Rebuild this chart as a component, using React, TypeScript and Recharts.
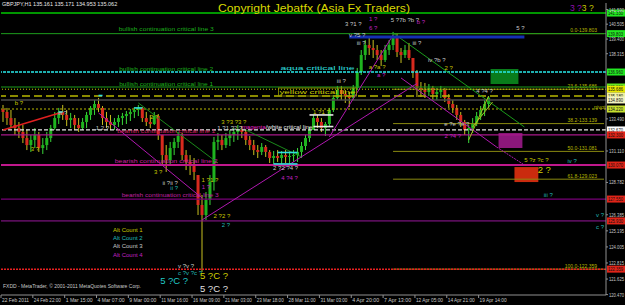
import React from 'react';
import { ComposedChart, Bar, XAxis, YAxis, ReferenceLine, ReferenceArea, ReferenceDot } from 'recharts';

const FONT = 'Liberation Sans, Arial, sans-serif';
const W = 625;
const H = 305;
const SLOTS = 152; // candle slots across the plot, the right part is empty future space

// GBPJPY H1, 22 Feb - 21 Apr 2011; each candle groups ~8 hourly bars
const highs = [
  134.52, 134.30, 134.15, 133.55, 133.26, 133.04, 132.67, 132.30, 132.81, 132.52,
  132.07, 132.52, 133.04, 134.00, 134.30, 134.52, 134.15, 133.93, 133.78, 133.55,
  133.55, 134.00, 134.44, 134.89, 135.04, 134.44, 134.00, 133.78, 133.55, 133.78,
  133.93, 134.07, 134.22, 134.37, 134.52, 134.37, 134.00, 133.78, 134.00, 133.85,
  132.30, 131.55, 131.78, 132.07, 132.52, 132.44, 131.18, 130.81, 130.59, 129.33,
  127.85, 128.07, 129.33, 132.15, 132.44, 132.30, 132.44, 132.67, 132.81, 133.04,
  132.96, 132.67, 132.22, 131.93, 131.55, 131.70, 131.55, 131.18, 131.11, 131.18,
  131.11, 131.18, 131.11, 131.18, 131.33, 131.78, 132.30, 132.89, 133.78, 133.78,
  133.55, 133.26, 134.30, 135.26, 135.93, 135.93, 135.63, 135.48, 136.00, 137.26,
  138.59, 139.33, 139.48, 139.33, 138.96, 138.59, 138.96, 139.33, 139.93, 139.85,
  138.74, 138.96, 139.11, 138.00, 137.11, 136.22, 136.15, 136.07, 135.93, 135.78,
  135.93, 135.78, 135.33, 134.89, 134.52, 134.00, 133.41, 133.04, 133.55, 134.00,
  134.44, 134.89, 135.17,
];
const lows = [
  133.26, 133.04, 132.81, 132.30, 132.07, 131.70, 131.18, 131.04, 131.33, 131.04,
  130.89, 131.18, 131.78, 132.67, 133.11, 133.41, 132.96, 132.81, 132.67, 132.52,
  132.67, 132.81, 133.41, 133.78, 134.00, 133.04, 132.81, 132.67, 132.67, 132.89,
  133.04, 133.11, 133.33, 133.55, 133.70, 133.26, 132.96, 132.81, 133.04, 131.93,
  130.07, 129.56, 130.07, 130.81, 131.33, 130.44, 129.70, 129.33, 128.96, 126.37,
  122.15, 126.00, 127.11, 128.18, 131.18, 131.18, 131.33, 131.48, 131.78, 131.93,
  132.07, 131.55, 131.18, 130.81, 130.59, 130.81, 130.67, 130.22, 130.15, 130.30,
  130.15, 130.22, 130.15, 130.30, 130.30, 130.59, 131.18, 131.78, 132.67, 132.81,
  132.52, 132.22, 132.96, 134.00, 134.89, 134.89, 134.67, 134.37, 134.89, 135.63,
  136.74, 137.85, 138.22, 138.00, 137.85, 137.41, 137.70, 138.22, 138.59, 138.07,
  137.63, 138.00, 137.85, 136.52, 135.11, 135.11, 135.04, 135.18, 134.89, 134.89,
  135.04, 134.74, 134.30, 133.93, 133.41, 132.89, 132.30, 131.70, 132.44, 132.96,
  133.41, 133.70, 134.30,
];
const closes = [
  134.00, 133.55, 133.04, 132.81, 132.52, 132.07, 131.55, 131.93, 132.30, 131.33,
  131.55, 132.07, 132.81, 133.55, 134.00, 133.78, 133.41, 133.55, 133.04, 132.81,
  133.26, 133.78, 134.30, 134.59, 134.30, 133.55, 133.26, 133.04, 133.26, 133.55,
  133.70, 133.85, 134.00, 134.15, 134.30, 133.55, 133.26, 133.11, 133.70, 132.30,
  130.81, 130.44, 131.33, 131.78, 132.22, 130.81, 130.30, 130.07, 129.56, 127.11,
  126.37, 127.48, 128.81, 131.78, 131.93, 131.55, 132.07, 132.30, 132.52, 132.67,
  132.52, 131.93, 131.55, 131.18, 131.04, 131.41, 131.04, 130.59, 130.74, 130.59,
  130.81, 130.67, 130.74, 130.81, 131.04, 131.48, 132.07, 132.67, 133.55, 133.26,
  132.81, 133.11, 134.15, 135.04, 135.63, 135.33, 135.18, 135.04, 135.78, 136.96,
  138.22, 138.96, 138.74, 138.59, 138.22, 137.85, 138.59, 138.96, 139.48, 138.44,
  138.22, 138.59, 138.00, 136.96, 135.78, 135.63, 135.48, 135.78, 135.33, 135.48,
  135.63, 135.04, 134.59, 134.30, 133.78, 133.26, 132.67, 132.81, 133.11, 133.70,
  134.15, 134.59, 135.06,
];
const firstOpen = 134.2;

const dateLabels = [
  '22 Feb 2011', '24 Feb 22:00', '1 Mar 15:00', '4 Mar 07:00', '9 Mar 00:00', '11 Mar 16:00',
  '16 Mar 09:00', '21 Mar 03:00', '23 Mar 18:00', '28 Mar 11:00', '31 Mar 03:00', '4 Apr 20:00',
  '7 Apr 13:00', '12 Apr 05:00', '14 Apr 21:00', '19 Apr 14:00',
];
const dateTickIdx = [0, 8, 16, 24, 32, 40, 48, 56, 64, 72, 80, 88, 96, 104, 112, 120];
const priceTicks = [141.59, 140.505, 139.4, 138.315, 133.49, 131.11, 128.782, 126.385, 125.195, 124.005, 122.815, 121.625, 120.47];

// horizontal critical lines
const levelPrices = [141.33, 139.803, 136.96, 135.85, 135.686, 135.18, 134.89, 134.22, 132.67, 132.3, 130.07, 127.55, 125.93, 122.359];
const levelStyles = [
  { stroke: '#00c800', w: 1.5, dash: '', tag: '#22e822' },
  { stroke: '#1c9c1c', w: 1, dash: '', tag: '#22e822' },
  { stroke: '#28e8e8', w: 1.5, dash: '3 1', tag: '#22e822' },
  { stroke: '#1c9c1c', w: 1, dash: '', tag: '#66e822' },
  { stroke: '#c8c800', w: 1, dash: '1 2', tag: '#e8e800' },
  { stroke: '#b8b800', w: 1.5, dash: '8 4', tag: '#f0f0a0' },
  { stroke: '#4a4a4a', w: 1.5, dash: '', tag: '#f4f4c0' },
  { stroke: '#b8b800', w: 1, dash: '2 2', tag: '#c8e030' },
  { stroke: '#e8e8e8', w: 1.2, dash: '4 2', tag: '#ffffff' },
  { stroke: '#a8188a', w: 1.2, dash: '', tag: '#e02418' },
  { stroke: '#c0188c', w: 2, dash: '', tag: '#e02418' },
  { stroke: '#780078', w: 1.2, dash: '', tag: '#e02418' },
  { stroke: '#98189a', w: 1, dash: '', tag: '#e02418' },
  { stroke: '#e82020', w: 1.5, dash: '2 1', tag: '#e02418' },
];

// fibonacci levels drawn from the 4 Apr high to the 17 Mar low
const fibPrices = [139.803, 135.686, 133.139, 131.081, 129.023, 122.359];
const fibNames = ['0.0-139.803', '23.6-135.686', '38.2-133.139', '50.0-131.081', '61.8-129.023', '100.0-122.359'];
const fibFrom = 98;

// trend lines: [fromIdx, fromPrice, toIdx, toPrice]
const trendSegs = [
  [0, 132.67, 15, 134.0],
  [34, 134.67, 54, 130.22],
  [61, 132.67, 75, 130.67],
  [98, 139.85, 131, 132.89],
  [24, 133.93, 50, 127.63],
  [50, 126.0, 104, 136.11],
  [82, 132.15, 98, 139.7],
  [100, 136.52, 124, 131.41],
  [124, 131.41, 131, 130.07],
  [117, 131.93, 122, 135.18],
  [118, 132.89, 123, 134.74],
  [87, 139.56, 131, 139.56],
];
const trendStyles = [
  { stroke: '#e02020', w: 1.5, dash: '' },
  { stroke: '#1a8a1a', w: 1, dash: '' },
  { stroke: '#1a8a1a', w: 1, dash: '' },
  { stroke: '#1a9a1a', w: 1, dash: '' },
  { stroke: '#b018b0', w: 1, dash: '' },
  { stroke: '#b018b0', w: 1, dash: '' },
  { stroke: '#b018b0', w: 1, dash: '' },
  { stroke: '#b018b0', w: 1, dash: '' },
  { stroke: '#b018b0', w: 1, dash: '2 1' },
  { stroke: '#a8c020', w: 1, dash: '' },
  { stroke: '#a8c020', w: 1, dash: '' },
  { stroke: '#1430b4', w: 3, dash: '' },
];

// short marker bars: [fromIdx, toIdx, price]
const markBars = [[14, 15, 134.0], [24, 25, 135.22], [33, 35, 134.3], [77, 83, 133.78], [78, 83, 132.92], [68, 74, 130.15], [69, 74, 131.0]];
const markColors = ['#30e0e0', '#30e0e0', '#30e0e0', '#e8e8e8', '#e8e8e8', '#30e0e0', '#30e0e0'];

// target zones: [fromIdx, toIdx, top, bottom]
const zones = [[123, 129, 137.19, 136.07], [125, 130, 132.44, 131.33], [129, 134, 129.92, 128.81]];
const zoneColors = ['#0a8a1e', '#9a1a88', '#e03010'];

// critical line captions: [text, idx, price]
const critLabels: [string, number, number][] = [
  ['bullish continuation critical line 3', 41, 140.15],
  ['bullish continuation critical line 2', 41, 137.18],
  ['bullish continuation critical line 1', 41, 136.07],
  ['aqua critical line', 79, 137.26],
  ['yellow critical line', 79, 135.48],
  ['bearish continuation critical line 1', 41, 132.59],
  ['bearish continuation critical line 2', 41, 130.37],
  ['bearish continuation critical line 3', 42, 127.85],
];
const critColors = ['#1cb01c', '#1cb01c', '#1cb01c', '#30e0e0', '#d0d000', '#d02060', '#d020a0', '#c020a0'];
const critWidths = [95, 94, 94, 74, 76, 98, 103, 97];

// elliott wave counts: [text, idx, price]
const yellowWaves: [string, number, number][] = [
  ['b ?', 4, 134.67], ['3 ?', 39, 129.56], ['2 ?', 38, 133.63], ['1 ?1 ?', 52, 128.96],
  ['2 ?2 ?', 55, 126.3], ['3 ?3 ?3 ?', 58, 133.26], ['1 ?1 ?', 80, 134.0], ['a ?a ?', 94, 137.33],
  ['2 ?', 112, 137.26], ['5 ?z ?c ?', 134, 130.44], ['3 ?', 8, 131.3],
];
const whiteWaves: [string, number, number][] = [
  ['3 ?1 ?', 88, 140.55], ['v ?5 ?', 89, 139.7], ['5 ?7b ?b ?', 101, 140.81], ['5 ?', 130, 140.22],
  ['iii ?', 85, 136.3], ['iii ?', 90, 139.11], ['1 ?1 ?2 ?', 57, 132.81], ['ii ?ii ?', 42, 128.74],
  ['v ?v ?', 46, 122.59], ['e ?e ?e ?', 114, 133.11], ['4 ?4 ?', 121, 135.55], ['2 ?2 ?4 ?', 71, 129.89],
  ['iv ?b ?', 109, 137.85], ['iii ?', 104, 139.11], ['1 2 ?', 25, 132.81], ['iii ?', 15, 133.9],
];
const magentaWaves: [string, number, number][] = [
  ['1 ?', 93, 140.89], ['6 ?', 93, 140.22], ['b ?', 105, 140.67], ['1 ?', 51, 128.45],
  ['2 ?4 ?', 113, 132.22], ['a ?', 95, 136.74], ['4 ?4 ?', 72, 129.11],
];
const cyanWaves: [string, number, number][] = [
  ['2 ?', 56, 125.63], ['iii ?', 137, 127.85], ['iv ?', 143, 130.37], ['v ?', 150, 126.37],
  ['c ?', 150, 125.48], ['c ?v ?c ?', 47, 122.07], ['ii ?', 43, 128.4],
];
const bigWaves: [string, number, number][] = [
  ['5 ?C ?', 43, 121.48], ['5 ?C ?', 53, 121.85], ['5 ?C ?', 53, 120.89], ['2 ?', 136, 129.7],
];
const bigColors = ['#20c8c8', '#d0d000', '#e0e0e0', '#d0d000'];

const rows = Array.from({ length: SLOTS }, (_, i) =>
  i < closes.length
    ? { i, open: i === 0 ? firstOpen : closes[i - 1], high: highs[i], low: lows[i], close: closes[i] }
    : { i }
);

function Candle(props: any) {
  const { x, y, width, height, payload } = props;
  if (!payload || payload.high == null) return null;
  const top = Math.min(y, y + height);
  const h = Math.abs(height);
  const span = payload.high - payload.low || 1;
  const py = (p: number) => top + ((payload.high - Math.min(payload.high, Math.max(payload.low, p))) / span) * h;
  const up = payload.close >= payload.open;
  const cx = x + width / 2;
  const b1 = py(Math.max(payload.open, payload.close));
  const b2 = py(Math.min(payload.open, payload.close));
  return (
    <g>
      <line x1={cx} x2={cx} y1={top} y2={top + h} stroke={up ? '#3ad83a' : '#c8c020'} strokeWidth={1} />
      <rect x={cx - 1.5} y={b1} width={3} height={Math.max(1, b2 - b1)} fill={up ? '#1fb41f' : '#d82a1e'} />
    </g>
  );
}

function DateTick(props: any) {
  const { x, y, payload } = props;
  const label = dateLabels[dateTickIdx.indexOf(payload.value)];
  const x0 = x - 2;
  return (
    <g>
      <line x1={x0} x2={x0} y1={y} y2={y + 3} stroke="#909090" />
      <text x={x0 + 1} y={y + 7} fontSize={5.2} fill="#c8c8c8" fontFamily={FONT} textLength={27} lengthAdjust="spacingAndGlyphs">
        {label}
      </text>
    </g>
  );
}

function PriceTick(props: any) {
  const { x, y, payload } = props;
  return (
    <text x={x} y={y + 2} fontSize={5.2} fill="#c8c8c8" fontFamily={FONT} textLength={15} lengthAdjust="spacingAndGlyphs">
      {Number(payload.value).toFixed(3)}
    </text>
  );
}

const tagLabel = (price: number, fill: string) => (props: any) => {
  const vb = props.viewBox || {};
  const x = vb.x + vb.width + 1;
  return (
    <g>
      <rect x={x} y={vb.y - 3.5} width={18} height={7} fill={fill} />
      <text x={x + 1} y={vb.y + 2} fontSize={5} fill="#101010" fontFamily={FONT} textLength={15} lengthAdjust="spacingAndGlyphs">
        {price.toFixed(3)}
      </text>
    </g>
  );
};

const fibLabel = (name: string) => (props: any) => {
  const vb = props.viewBox || {};
  return (
    <text x={vb.x + vb.width - 7} y={vb.y - 1.5} fontSize={5} textAnchor="end" fill="#b8b800" fontFamily={FONT}>{name}</text>
  );
};

const dotText = (text: string, color: string, size: number, len?: number, box?: boolean) => (props: any) => {
  const vb = props.viewBox || {};
  const cx = vb.x + (vb.width || 0) / 2;
  const cy = vb.y + (vb.height || 0) / 2;
  return (
    <g>
      {box && len ? <rect x={cx - len / 2 - 1} y={cy - 4} width={len + 2} height={8} fill="none" stroke="#9a9a00" strokeWidth={0.8} /> : null}
      <text
        x={cx}
        y={cy}
        dy="0.35em"
        textAnchor="middle"
        fontSize={size}
        fill={color}
        fontFamily={FONT}
        {...(len ? { textLength: len, lengthAdjust: 'spacingAndGlyphs' } : {})}
      >
        {text}
      </text>
    </g>
  );
};

const magentaWhiteLabel = (props: any) => {
  const vb = props.viewBox || {};
  const cx = vb.x + (vb.width || 0) / 2;
  const cy = vb.y + (vb.height || 0) / 2;
  return (
    <text x={cx - 36} y={cy} dy="0.35em" fontSize={6.2} fontFamily={FONT}>
      <tspan fill="#e020c0">magenta</tspan>
      <tspan fill="#e8e8e8">/white critical line</tspan>
    </text>
  );
};

function waveDots(list: [string, number, number][], color: string, size: number, key: string) {
  return list.map(([t, i, p], k) => (
    <ReferenceDot key={key + k} x={i} y={p} r={1} fill="none" stroke="none" ifOverflow="visible" label={dotText(t, color, size)} />
  ));
}

export default function App() {
  return (
    <div style={{ position: 'fixed', left: 0, top: 0, width: W, height: H, background: '#000', overflow: 'hidden' }}>
      <ComposedChart width={W} height={H} data={rows} margin={{ top: 3, right: 0, bottom: 0, left: 1 }} barCategoryGap={0} barGap={0}>
        <XAxis
          dataKey="i"
          type="category"
          ticks={dateTickIdx}
          interval={0}
          height={10}
          tickSize={0}
          tickMargin={0}
          tick={<DateTick />}
          axisLine={{ stroke: '#909090' }}
          tickLine={false}
        />
        <YAxis
          orientation="right"
          type="number"
          domain={[120.443, 142.073]}
          allowDataOverflow
          ticks={priceTicks}
          interval={0}
          width={19}
          tickSize={2}
          tickMargin={1}
          tick={<PriceTick />}
          axisLine={{ stroke: '#909090' }}
          tickLine={{ stroke: '#909090' }}
        />
        {zones.map(([a, b, t, u], k) => (
          <ReferenceArea key={'z' + k} x1={a} x2={b} y1={u} y2={t} fill={zoneColors[k]} fillOpacity={0.9} stroke="none" />
        ))}
        {fibPrices.map((p, k) => (
          <ReferenceLine
            key={'f' + k}
            segment={[{ x: fibFrom, y: p }, { x: SLOTS - 1, y: p }]}
            stroke="#8a8a10"
            strokeWidth={1}
            label={fibLabel(fibNames[k])}
          />
        ))}
        {levelPrices.map((p, k) => (
          <ReferenceLine
            key={'l' + k}
            y={p}
            stroke={levelStyles[k].stroke}
            strokeWidth={levelStyles[k].w}
            strokeDasharray={levelStyles[k].dash}
            label={tagLabel(p, levelStyles[k].tag)}
          />
        ))}
        {trendSegs.map(([a, p1, b, p2], k) => (
          <ReferenceLine
            key={'t' + k}
            segment={[{ x: a, y: p1 }, { x: b, y: p2 }]}
            stroke={trendStyles[k].stroke}
            strokeWidth={trendStyles[k].w}
            strokeDasharray={trendStyles[k].dash}
          />
        ))}
        {markBars.map(([a, b, p], k) => (
          <ReferenceLine key={'m' + k} segment={[{ x: a, y: p }, { x: b, y: p }]} stroke={markColors[k]} strokeWidth={1.6} />
        ))}
        <Bar dataKey={(d: any) => (d.high == null ? null : [d.low, d.high])} shape={<Candle />} isAnimationActive={false} />
        {critLabels.map(([t, i, p], k) => (
          <ReferenceDot
            key={'c' + k}
            x={i}
            y={p}
            r={1}
            fill="none"
            stroke="none"
            label={dotText(t, critColors[k], 6.2, critWidths[k], k === 4)}
          />
        ))}
        <ReferenceDot x={69} y={132.89} r={1} fill="none" stroke="none" label={magentaWhiteLabel} />
        {waveDots(yellowWaves, '#c8c800', 6, 'y')}
        {waveDots(whiteWaves, '#c8c8c8', 6, 'w')}
        {waveDots(magentaWaves, '#c020c0', 6, 'g')}
        {waveDots(cyanWaves, '#20b8b8', 6, 'c')}
        {bigWaves.map(([t, i, p], k) => (
          <ReferenceDot key={'b' + k} x={i} y={p} r={1} fill="none" stroke="none" label={dotText(t, bigColors[k], 9.5)} />
        ))}
      </ComposedChart>
      <svg width={W} height={H} style={{ position: 'absolute', left: 0, top: 0, pointerEvents: 'none' }}>
        <text x={2} y={6} fontSize={5.5} fill="#e8e8e8" fontFamily={FONT}>GBPJPY,H1  135.161 135.171 134.953 135.062</text>
        <text x={218} y={12} fontSize={11} fill="#d8d800" fontFamily={FONT} textLength={192} lengthAdjust="spacingAndGlyphs">
          Copyright Jebatfx (Asia Fx Traders)
        </text>
        <text x={570} y={11} fontSize={8.5} fontFamily={FONT}>
          <tspan fill="#9010b0">3 ?</tspan>
          <tspan fill="#c8c800">3 ?</tspan>
        </text>
        <text x={113} y={232} fontSize={6} fill="#c8c800" fontFamily={FONT}>Alt Count 1</text>
        <text x={113} y={240} fontSize={6} fill="#20b8b8" fontFamily={FONT}>Alt Count 2</text>
        <text x={113} y={248} fontSize={6} fill="#c8c8c8" fontFamily={FONT}>Alt Count 3</text>
        <text x={113} y={257} fontSize={6} fill="#c020c0" fontFamily={FONT}>Alt Count 4</text>
        <text x={594} y={109} fontSize={5.5} fill="#b8b800" fontFamily={FONT}>pivot</text>
        <text x={3} y={288} fontSize={5.2} fill="#c8c8c8" fontFamily={FONT} textLength={138} lengthAdjust="spacingAndGlyphs">
          FXDD - MetaTrader, © 2001-2011 MetaQuotes Software Corp.
        </text>
      </svg>
    </div>
  );
}
